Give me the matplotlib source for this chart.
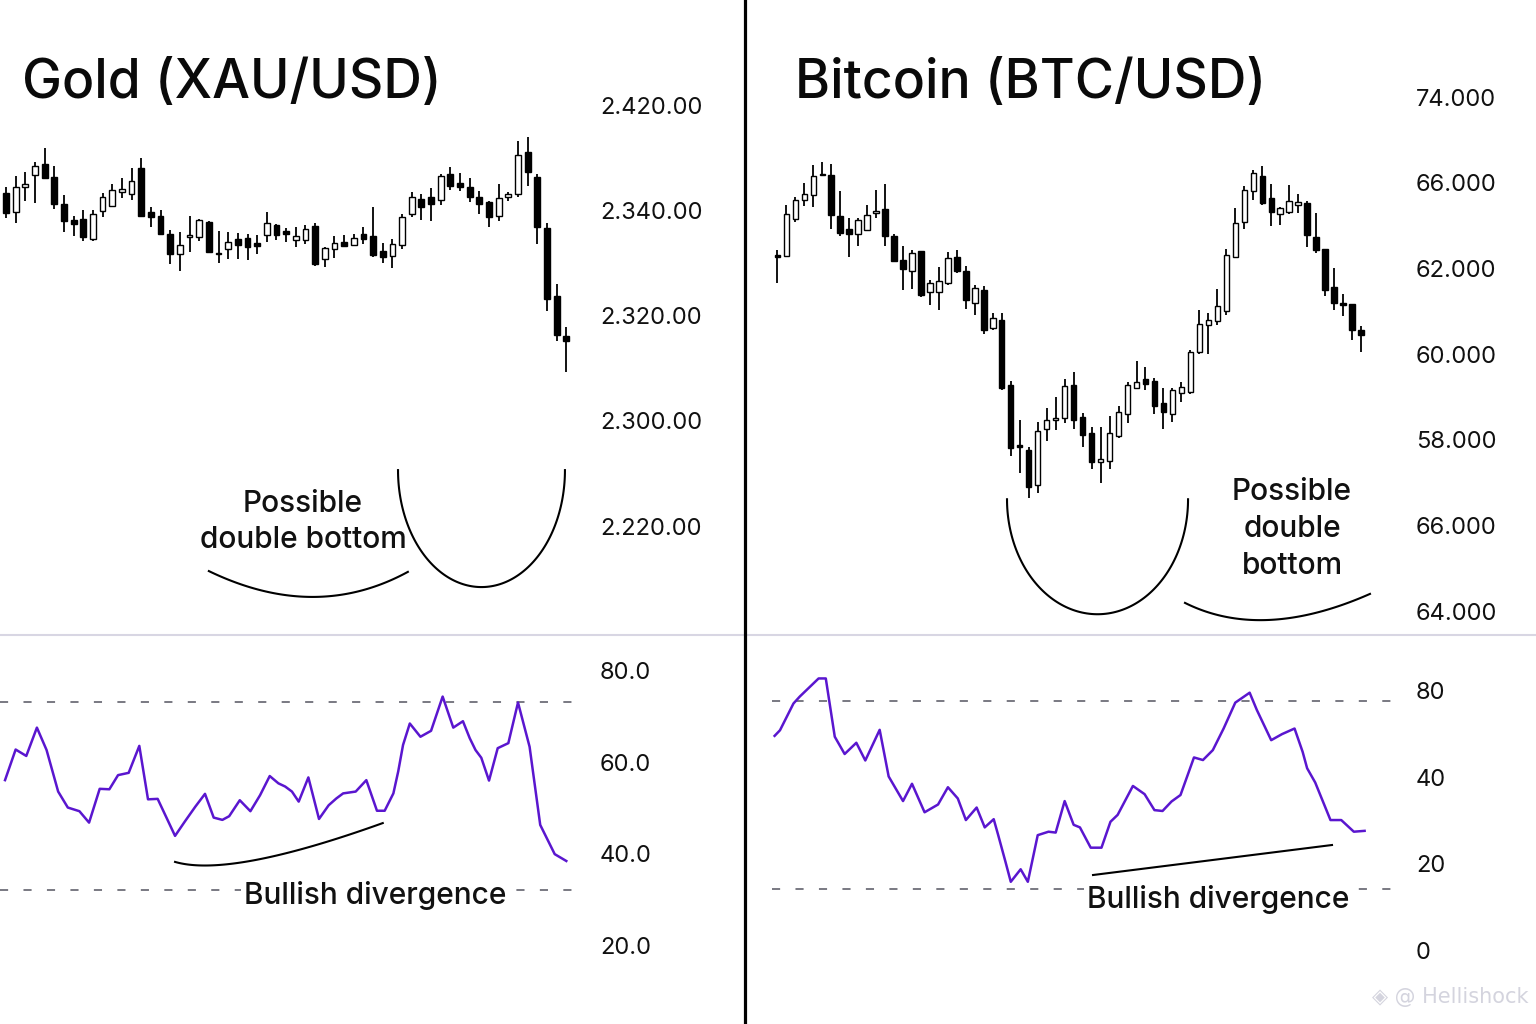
import numpy as np
import matplotlib.pyplot as plt
from matplotlib.lines import Line2D

# --- Gold (XAU/USD) candles, one row per bar: open, high, low, close
gold_open = [2403.4, 2399.7, 2404.4, 2406.7, 2408.9, 2406.4, 2401.2, 2398.2, 2398.3, 2394.5,
             2399.9, 2400.9, 2403.5, 2403.2, 2408.1, 2399.7, 2399.0, 2395.6, 2391.7, 2394.9,
             2394.9, 2397.8, 2391.9, 2392.7, 2394.5, 2394.8, 2393.9, 2395.3, 2397.2, 2396.1,
             2394.4, 2394.4, 2397.0, 2390.7, 2392.7, 2394.0, 2393.5, 2395.6, 2395.1, 2392.3,
             2391.4, 2393.4, 2399.4, 2402.1, 2402.5, 2401.9, 2406.9, 2405.3, 2404.5, 2402.6,
             2401.6, 2398.9, 2402.5, 2403.1, 2411.2, 2406.3, 2396.6, 2383.7, 2376.1]
gold_high = [2404.4, 2406.6, 2407.3, 2409.2, 2411.9, 2408.5, 2403.0, 2398.9, 2400.1, 2400.1,
             2403.4, 2405.1, 2406.2, 2408.0, 2409.9, 2400.7, 2400.1, 2396.3, 2395.9, 2399.0,
             2398.3, 2398.0, 2396.1, 2395.9, 2395.8, 2395.6, 2395.4, 2399.7, 2397.4, 2396.7,
             2396.9, 2397.3, 2397.7, 2393.1, 2395.1, 2395.4, 2395.6, 2396.8, 2400.7, 2393.9,
             2394.5, 2399.4, 2403.5, 2403.2, 2404.2, 2407.0, 2408.2, 2407.1, 2406.1, 2403.7,
             2401.8, 2405.1, 2403.5, 2413.2, 2413.9, 2407.0, 2397.7, 2386.1, 2377.9]
gold_low = [2398.5, 2397.7, 2401.8, 2401.4, 2406.1, 2400.2, 2395.9, 2395.2, 2394.2, 2394.2,
            2398.8, 2400.6, 2402.3, 2401.9, 2398.7, 2396.9, 2395.4, 2389.9, 2388.5, 2392.1,
            2394.2, 2392.1, 2390.1, 2390.7, 2390.8, 2390.6, 2391.8, 2394.0, 2394.4, 2394.0,
            2393.1, 2393.6, 2389.5, 2389.2, 2390.9, 2393.0, 2393.4, 2393.7, 2391.2, 2390.1,
            2389.0, 2392.6, 2398.7, 2398.2, 2398.0, 2401.1, 2403.9, 2403.7, 2401.6, 2399.3,
            2396.8, 2398.0, 2401.8, 2402.6, 2404.7, 2393.7, 2380.8, 2375.2, 2369.2]
gold_close = [2399.6, 2404.5, 2405.1, 2408.5, 2406.2, 2401.2, 2398.0, 2397.5, 2394.9, 2399.3,
              2402.5, 2403.8, 2404.0, 2405.6, 2398.9, 2398.8, 2395.6, 2391.7, 2393.5, 2395.4,
              2398.2, 2392.1, 2391.7, 2394.0, 2393.4, 2393.0, 2393.3, 2397.7, 2395.3, 2395.5,
              2395.1, 2396.5, 2389.8, 2392.9, 2393.9, 2393.3, 2394.8, 2394.6, 2391.5, 2391.2,
              2393.6, 2398.7, 2402.6, 2400.7, 2401.2, 2406.6, 2404.6, 2404.4, 2402.6, 2401.2,
              2398.8, 2402.3, 2403.2, 2410.5, 2407.3, 2396.8, 2383.1, 2376.3, 2375.2]

# --- Bitcoin (BTC/USD) candles, in thousands
btc_open = [70.31, 70.30, 71.15, 71.61, 71.71, 72.19, 72.18, 71.22, 70.92, 70.81,
            70.91, 71.30, 71.40, 70.75, 70.19, 69.94, 70.40, 69.45, 69.45, 69.67,
            70.27, 69.94, 69.20, 69.49, 68.60, 68.79, 67.27, 65.87, 65.77, 64.94,
            66.24, 66.47, 66.50, 67.27, 66.53, 66.15, 65.47, 65.50, 66.08, 66.61,
            67.22, 67.41, 67.37, 66.85, 66.61, 67.10, 67.12, 68.05, 68.69, 68.78,
            69.01, 70.27, 71.09, 71.81, 72.15, 71.65, 71.27, 71.31, 71.48, 71.54,
            70.74, 70.46, 69.57, 69.20, 69.16, 68.57]
btc_high = [70.43, 71.48, 71.67, 72.00, 72.41, 72.49, 72.44, 71.81, 71.19, 71.19,
            71.48, 71.83, 71.97, 70.81, 70.52, 70.43, 70.40, 69.74, 70.04, 70.39,
            70.43, 70.05, 69.61, 69.59, 68.95, 68.95, 67.37, 66.47, 65.83, 66.42,
            66.75, 66.99, 67.41, 67.58, 66.63, 66.29, 66.29, 66.55, 66.78, 67.35,
            67.84, 67.70, 67.45, 67.22, 67.21, 67.35, 68.09, 69.03, 68.96, 69.51,
            70.46, 71.42, 71.92, 72.31, 72.39, 71.98, 71.44, 71.94, 71.73, 71.58,
            71.30, 70.46, 70.02, 69.41, 69.17, 68.65]
btc_low = [69.67, 70.29, 71.09, 71.45, 71.44, 72.15, 70.93, 70.75, 70.27, 70.53,
           70.89, 71.19, 70.52, 70.17, 69.49, 69.51, 69.34, 69.14, 69.03, 69.61,
           69.90, 69.06, 68.92, 68.48, 68.57, 67.17, 65.62, 65.23, 64.63, 64.75,
           65.97, 66.22, 66.38, 66.26, 65.83, 65.31, 64.98, 65.31, 66.05, 66.39,
           67.22, 67.17, 66.61, 66.26, 66.42, 66.87, 67.06, 68.01, 68.01, 68.68,
           68.92, 70.25, 70.93, 71.61, 71.48, 70.99, 71.01, 71.28, 71.30, 70.49,
           70.35, 69.35, 69.03, 68.89, 68.32, 68.05]
btc_close = [70.27, 71.28, 71.59, 71.73, 72.16, 72.18, 71.24, 70.84, 70.81, 71.14,
             71.24, 71.34, 70.75, 70.18, 69.98, 70.35, 69.38, 69.65, 69.70, 70.25,
             69.94, 69.27, 69.55, 68.56, 68.85, 67.21, 65.81, 65.83, 64.90, 66.20,
             66.47, 66.51, 67.26, 66.47, 66.11, 65.47, 65.56, 66.16, 66.64, 67.27,
             67.34, 67.31, 66.78, 66.65, 67.16, 67.24, 68.05, 68.71, 68.79, 69.12,
             70.31, 71.06, 71.84, 72.22, 71.52, 71.32, 71.41, 71.57, 71.55, 70.78,
             70.43, 69.49, 69.20, 69.14, 68.56, 68.44]

# --- RSI lines (x in bar units)
gold_rsi_x = [-0.1, 1.0, 2.1, 3.2, 4.2, 5.4, 6.4, 7.6, 8.6, 9.7, 10.7, 11.6, 12.7, 13.8, 14.7,
              15.7, 17.5, 18.5, 19.6, 20.6, 21.5, 22.4, 23.1, 24.2, 25.3, 26.3, 27.3, 28.2, 28.9,
              29.6, 30.3, 31.3, 32.4, 33.4, 34.2, 34.9, 36.2, 37.3, 38.4, 39.2, 40.1, 40.6, 41.1,
              41.8, 42.9, 44.0, 45.2, 46.3, 47.3, 48.0, 48.6, 49.2, 50.0, 50.9, 52.0, 53.0, 54.2,
              55.3, 56.8, 58.0]
gold_rsi = [56.1, 62.8, 61.4, 67.6, 62.7, 53.6, 50.1, 49.3, 46.8, 54.2, 54.1, 57.2, 57.7, 63.6, 51.9,
            52.0, 43.9, 47.0, 50.3, 53.1, 47.9, 47.4, 48.2, 51.7, 49.3, 52.8, 57.0, 55.4, 54.7,
            53.6, 51.4, 56.7, 47.6, 50.6, 52.1, 53.2, 53.6, 56.1, 49.4, 49.4, 53.2, 58.0, 63.8,
            68.5, 65.6, 66.9, 74.4, 67.6, 69.0, 65.3, 62.7, 61.0, 56.0, 63.1, 64.2, 73.1, 63.4,
            46.3, 39.9, 38.4]
btc_rsi_x = [-0.3, 0.3, 1.8, 2.5, 4.6, 5.4, 6.4, 7.5, 8.8, 9.8, 11.4, 12.4, 14.0, 15.0, 16.4,
             17.9, 19.0, 20.1, 21.0, 22.2, 23.1, 24.1, 24.6, 25.4, 26.0, 27.1, 27.9, 29.0, 30.2,
             31.0, 32.0, 33.0, 33.7, 34.9, 36.1, 37.1, 37.9, 39.6, 40.9, 42.0, 42.9, 43.9, 44.9,
             46.4, 47.4, 48.5, 49.7, 51.0, 52.6, 53.4, 55.0, 56.2, 57.6, 58.5, 59.0, 59.9, 61.6,
             62.8, 64.2, 65.4]
btc_rsi = [49.6, 50.9, 57.1, 58.7, 62.9, 62.9, 49.4, 45.4, 48.0, 43.9, 51.0, 40.2, 34.5, 38.5, 31.9,
           33.7, 37.7, 35.1, 30.1, 33.0, 28.4, 30.3, 26.6, 20.5, 15.8, 18.7, 15.8, 26.6, 27.4,
           27.2, 34.5, 29.0, 28.4, 23.7, 23.7, 29.7, 31.3, 38.0, 36.1, 32.4, 32.2, 34.4, 35.9,
           44.6, 44.0, 46.3, 51.3, 57.3, 59.6, 55.6, 48.6, 50.0, 51.3, 45.9, 42.1, 38.8, 30.1,
           30.1, 27.4, 27.6]

# --- axis ticks (labels as printed on the picture)
gold_ticks = [2420, 2400, 2380, 2360, 2340]
gold_tick_labels = ['2.420.00', '2.340.00', '2.320.00', '2.300.00', '2.220.00']
btc_ticks = [74, 72, 70, 68, 66, 64, 62]
btc_tick_labels = ['74.000', '66.000', '62.000', '60.000', '58.000', '66.000', '64.000']
gold_rsi_ticks = [80, 60, 40, 20]
gold_rsi_labels = ['80.0', '60.0', '40.0', '20.0']
btc_rsi_ticks = [60, 40, 20, 0]
btc_rsi_labels = ['80', '40', '20', '0']
gold_rsi_levels = [73.1, 32.0]
btc_rsi_levels = [57.7, 14.1]

FONT = ['Inter', 'DejaVu Sans']
plt.rcParams['font.family'] = FONT
RSI_COLOR = '#5a16cf'
W, H = 1536, 1024


def frac(px_x, px_y):
    return px_x / W, 1 - px_y / H


def style_axes(ax, ticks, labels, pad):
    for s in ax.spines.values():
        s.set_visible(False)
    ax.set_xticks([])
    ax.yaxis.tick_right()
    ax.set_yticks(ticks)
    ax.set_yticklabels(labels)
    ax.tick_params(axis='y', length=0, pad=pad, labelsize=17, labelcolor='#111111')
    ax.patch.set_alpha(0)


def draw_candles(ax, o, h, l, c, width=0.6):
    o, h, l, c = map(np.asarray, (o, h, l, c))
    x = np.arange(len(o))
    ax.vlines(x, l, h, color='black', lw=1.3, zorder=2)
    up = c >= o
    bottom = np.minimum(o, c)
    height = np.maximum(np.abs(c - o), 0.02 * (h.max() - l.min()) / 10)
    faces = np.where(up, 'white', 'black')
    ax.bar(x, height, bottom=bottom, width=width, color=faces,
           edgecolor='black', linewidth=1.0, zorder=3)


def arc_bezier(ax, p0, p1, p2, **kw):
    t = np.linspace(0, 1, 100)[:, None]
    pts = (1 - t) ** 2 * np.array(p0) + 2 * (1 - t) * t * np.array(p1) + t ** 2 * np.array(p2)
    ax.plot(pts[:, 0], pts[:, 1], clip_on=False, **kw)


def half_ellipse(ax, cx, cy, a, b, **kw):
    t = np.linspace(0, np.pi, 120)
    ax.plot(cx + a * np.cos(t), cy - b * np.sin(t), clip_on=False, **kw)


fig = plt.figure(figsize=(W / 100, H / 100), dpi=100)
fig.patch.set_facecolor('white')

top_y, top_h = (H - 635) / H, 635 / H
bot_h = 387 / H

ax_gold = fig.add_axes([0, top_y, 575 / W, top_h])
ax_btc = fig.add_axes([772 / W, top_y, 626 / W, top_h])
ax_grsi = fig.add_axes([0, 0, 575 / W, bot_h])
ax_brsi = fig.add_axes([772 / W, 0, 626 / W, bot_h])

# gold price
draw_candles(ax_gold, gold_open, gold_high, gold_low, gold_close)
ax_gold.set_xlim(-0.62, 58.9)
ax_gold.set_ylim(2319.3, 2440.0)
style_axes(ax_gold, gold_ticks, gold_tick_labels, 18)
line_kw = dict(color='black', lw=1.5)
arc_bezier(ax_gold, (21.0, 2331.45), (32.0, 2321.7), (41.6, 2331.3), **line_kw)
half_ellipse(ax_gold, 49.22, 2350.64, 8.64, 22.23, **line_kw)

# bitcoin price
draw_candles(ax_btc, btc_open, btc_high, btc_low, btc_close)
ax_btc.set_xlim(-0.59, 69.12)
ax_btc.set_ylim(61.44, 76.27)
style_axes(ax_btc, btc_ticks, btc_tick_labels, 13)
half_ellipse(ax_btc, 35.66, 64.61, 10.08, 2.685, **line_kw)
arc_bezier(ax_btc, (45.4, 62.19), (54.0, 61.29), (66.0, 62.40), **line_kw)

# RSI panels
for ax, xs, ys, levels in [(ax_grsi, gold_rsi_x, gold_rsi, gold_rsi_levels),
                           (ax_brsi, btc_rsi_x, btc_rsi, btc_rsi_levels)]:
    for lv in levels:
        ax.axhline(lv, color='#6e6e78', lw=1.3, dashes=(4.5, 8.5), zorder=1)
    ax.plot(xs, ys, color=RSI_COLOR, lw=1.8, zorder=3)

ax_grsi.set_xlim(-0.62, 58.9)
ax_grsi.set_ylim(2.71, 87.44)
style_axes(ax_grsi, gold_rsi_ticks, gold_rsi_labels, 18)
arc_bezier(ax_grsi, (17.5, 38.2), (23.2, 34.7), (39.0, 46.7), **line_kw)

ax_brsi.set_xlim(-0.59, 69.12)
ax_brsi.set_ylim(-17.14, 72.5)
style_axes(ax_brsi, btc_rsi_ticks, btc_rsi_labels, 13)
ax_brsi.plot([35.16, 61.77], [17.37, 24.32], clip_on=False, **line_kw)

# titles and notes
title_kw = dict(fontsize=38.5, fontweight='medium', color='#0a0a0a', va='baseline', ha='left')
fig.text(*frac(22, 98), 'Gold (XAU/USD)', **title_kw)
fig.text(*frac(795, 98), 'Bitcoin (BTC/USD)', **title_kw)

note_kw = dict(fontsize=21.5, fontweight='medium', color='#111111', ha='center',
               va='center', linespacing=1.4)
fig.text(*frac(303, 522), 'Possible\ndouble bottom', **note_kw)
fig.text(*frac(1292, 529), 'Possible\ndouble\nbottom', **note_kw)
box = dict(facecolor='white', edgecolor='none', pad=2)
fig.text(*frac(375, 896), 'Bullish divergence', bbox=box, **note_kw)
fig.text(*frac(1218, 899), 'Bullish divergence', bbox=box, **note_kw)

fig.text(*frac(1528, 997), '\u25C8 @ Hellishock', fontsize=15, color='#d4d4de',
         ha='right', va='center', family=['DejaVu Sans'])

# panel separators
fig.add_artist(Line2D([0, 1], [top_y, top_y], transform=fig.transFigure,
                      color='#d8d6e3', lw=1.5))
fig.add_artist(Line2D([745 / W, 745 / W], [0, 1], transform=fig.transFigure,
                      color='black', lw=2.3))

fig.savefig('out.png', dpi=100, facecolor='white')
